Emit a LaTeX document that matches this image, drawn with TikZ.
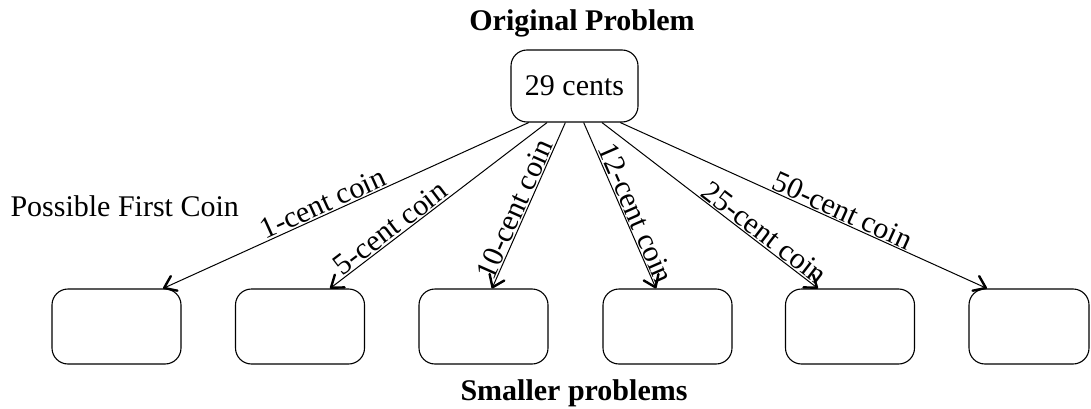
\documentclass[tikz,border=0pt]{standalone}
\usepackage{fontspec}
\setmainfont{Liberation Serif}
\usetikzlibrary{arrows.meta,calc}
\begin{document}
\begin{tikzpicture}[x=1pt,y=-1pt,
  every node/.style={font=\fontsize{30}{36}\selectfont},
  box/.style={draw,line width=1.1pt,rounded corners=16pt,inner sep=0pt},
  smallbox/.style={box,minimum width=129pt,minimum height=75pt},
  arr/.style={line width=1pt,-{Straight Barb[length=11pt,width=16pt,line width=2.4pt,round]}},
  lab/.style={sloped,above,inner sep=1pt}]
\useasboundingbox (0,0) rectangle (1091,409);
\node (title) at (582,31) [anchor=base,font=\fontsize{30}{36}\selectfont\bfseries] {Original Problem};
\node[box,minimum width=127pt,minimum height=72pt] (top) at (574.5,86) {29 cents};
\node (pfc) at (7,216) [anchor=base west] {Possible First Coin};
\node[smallbox] (b1) at (116.5,326.5) {};
\node[smallbox] (b2) at (300,326.5) {};
\node[smallbox] (b3) at (483.5,326.5) {};
\node[smallbox] (b4) at (667.5,326.5) {};
\node[smallbox] (b5) at (850,326.5) {};
\node[smallbox,minimum width=120pt] (b6) at (1029,326.5) {};
\node (small) at (574,400) [anchor=base,font=\fontsize{30}{36}\selectfont\bfseries] {Smaller problems};
\draw[arr] ($(top.south west)!1/7!(top.south east)$) -- node[lab,pos=0.55] {1-cent coin} ([xshift=46.5pt]b1.north);
\draw[arr] ($(top.south west)!2/7!(top.south east)$) -- node[lab,pos=0.69] {5-cent coin} ([xshift=30pt]b2.north);
\draw[arr] ($(top.south west)!3/7!(top.south east)$) -- node[lab,pos=0.55] {10-cent coin} ([xshift=8.5pt]b3.north);
\draw[arr] ($(top.south west)!4/7!(top.south east)$) -- node[lab,pos=0.575] {12-cent coin} ([xshift=-11.5pt]b4.north);
\draw[arr] ($(top.south west)!5/7!(top.south east)$) -- node[lab,pos=0.72] {25-cent coin} ([xshift=-32pt]b5.north);
\draw[arr] ($(top.south west)!6/7!(top.south east)$) -- node[lab,pos=0.594] {50-cent coin} ([xshift=-42pt]b6.north);
\end{tikzpicture}
\end{document}
